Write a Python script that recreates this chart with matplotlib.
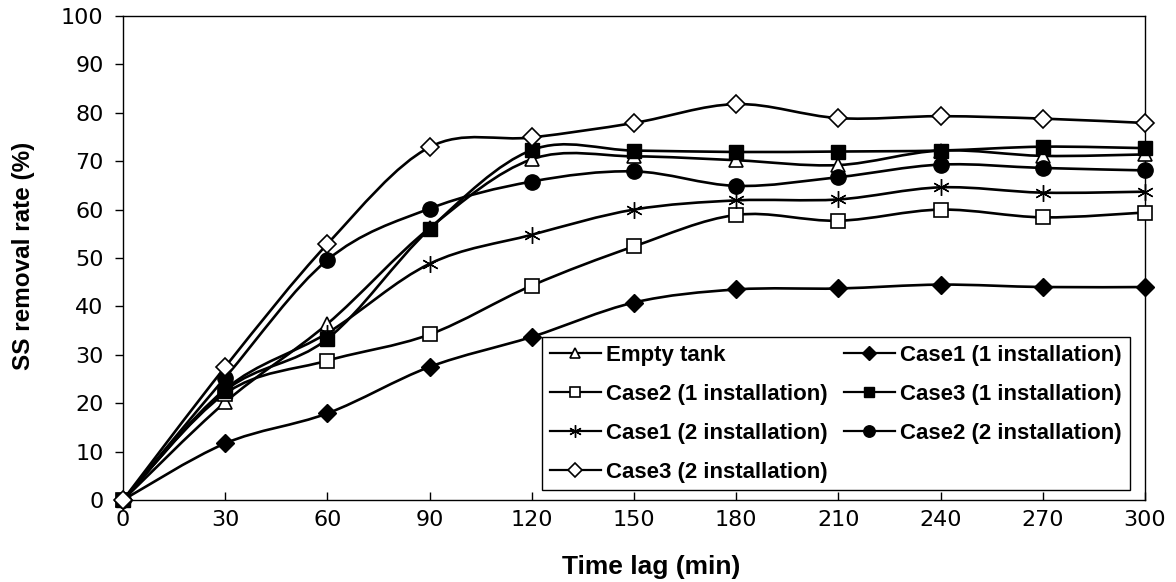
import numpy as np
import matplotlib.pyplot as plt
from matplotlib.path import Path
from matplotlib.patches import PathPatch
from matplotlib.lines import Line2D

# data
time_min = [0, 30, 60, 90, 120, 150, 180, 210, 240, 270, 300]
empty_tank = [0, 20.2, 36.4, 56.2, 70.4, 71.0, 70.2, 69.2, 72.2, 71.1, 71.4]
case1_one = [0, 11.7, 17.9, 27.5, 33.7, 40.8, 43.5, 43.7, 44.5, 44.0, 44.0]
case2_one = [0, 22.0, 28.8, 34.2, 44.3, 52.4, 58.9, 57.7, 60.0, 58.4, 59.4]
case3_one = [0, 22.6, 33.3, 56.0, 72.3, 72.2, 71.9, 72.0, 72.2, 73.0, 72.7]
case1_two = [0, 22.9, 34.5, 48.8, 54.8, 60.0, 61.9, 62.1, 64.6, 63.5, 63.7]
case2_two = [0, 25.3, 49.6, 60.2, 65.8, 67.9, 64.9, 66.7, 69.3, 68.6, 68.1]
case3_two = [0, 27.5, 52.9, 72.9, 74.9, 77.9, 81.8, 78.9, 79.3, 78.8, 77.9]

series = [
    ("Empty tank", empty_tank, "^", "white"),
    ("Case1 (1 installation)", case1_one, "D", "black"),
    ("Case2 (1 installation)", case2_one, "s", "white"),
    ("Case3 (1 installation)", case3_one, "s", "black"),
    ("Case1 (2 installation)", case1_two, (6, 2, 0), "black"),
    ("Case2 (2 installation)", case2_two, "o", "black"),
    ("Case3 (2 installation)", case3_two, "D", "white"),
]


def smooth_path(x, y):
    # excel-like smoothed line as cubic bezier segments
    pts = np.column_stack([x, y]).astype(float)
    n = len(pts)
    verts = [pts[0]]
    codes = [Path.MOVETO]
    for i in range(n - 1):
        p_prev = pts[max(i - 1, 0)]
        p0 = pts[i]
        p1 = pts[i + 1]
        p_next = pts[min(i + 2, n - 1)]
        c1 = p0 + (p1 - p_prev) / 6
        c2 = p1 - (p_next - p0) / 6
        verts += [c1, c2, p1]
        codes += [Path.CURVE4] * 3
    return Path(verts, codes)


def marker_size(marker):
    if marker == "D":
        return 9.5
    if marker == "^":
        return 10.5
    if marker == "o":
        return 11
    if marker == "s":
        return 10.5
    return 12


fig = plt.figure(figsize=(11.76, 5.82), dpi=100)
ax = fig.add_axes([0.1046, 0.1409, 0.869, 0.8316])

handles = {}
for label, values, marker, face in series:
    patch = PathPatch(smooth_path(time_min, values), facecolor="none", edgecolor="black",
                      linewidth=1.9, zorder=2)
    ax.add_patch(patch)
    ms = marker_size(marker)
    mew = 1.2 if face == "white" else 1.0
    ax.plot(time_min, values, linestyle="none", marker=marker, markersize=ms,
            markerfacecolor=face, markeredgecolor="black", markeredgewidth=mew, zorder=3,
            clip_on=False)
    handles[label] = Line2D([], [], color="black", linewidth=1.6, marker=marker, markersize=ms * 0.75,
                            markerfacecolor=face, markeredgecolor="black", markeredgewidth=mew)

ax.set_xlim(0, 300)
ax.set_ylim(0, 100)
ax.set_xticks(time_min)
ax.set_yticks(np.arange(0, 101, 10))
ax.tick_params(axis="x", direction="in", length=6, width=1, pad=7, labelsize=16)
ax.tick_params(axis="y", direction="out", length=6, width=1, pad=8, labelsize=16)
for spine in ax.spines.values():
    spine.set_linewidth(1.0)

fig.text(651 / 1176, 1 - 567 / 582, "Time lag (min)", fontsize=19, fontweight="bold",
         family="Liberation Sans", ha="center", va="center")
fig.text(24 / 1176, 1 - 256 / 582, "SS removal rate (%)", fontsize=17.5, fontweight="bold",
         family="Liberation Sans", ha="center", va="center", rotation=90)

order = ["Empty tank", "Case2 (1 installation)", "Case1 (2 installation)", "Case3 (2 installation)",
         "Case1 (1 installation)", "Case3 (1 installation)", "Case2 (2 installation)"]
leg = ax.legend([handles[k] for k in order], order, ncol=2, loc="lower right",
                bbox_to_anchor=(0.985, 0.02), frameon=True, fancybox=False, edgecolor="black",
                framealpha=1, prop={"family": "Liberation Sans", "weight": "bold", "size": 16},
                handlelength=2.3, handletextpad=0.25, columnspacing=0.7, labelspacing=0.8,
                borderpad=0.35, borderaxespad=0)
leg.get_frame().set_linewidth(1.0)

plt.savefig("out.png", dpi=100)
